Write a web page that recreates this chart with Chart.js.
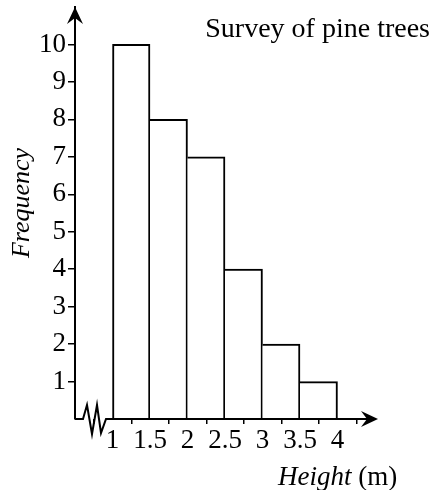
<!DOCTYPE html>
<html>
<head>
<meta charset="utf-8">
<script src="https://cdn.jsdelivr.net/npm/chart.js@4.4.1/dist/chart.umd.min.js"></script>
<style>
  html, body { margin: 0; padding: 0; background: #fff; }
  #wrap { width: 441px; height: 490px; }
</style>
</head>
<body>
<div id="wrap"><canvas id="pineChart"></canvas></div>
<script>
// histogram data: class edges (m) and frequency per class
const binEdges = [1, 1.5, 2, 2.5, 3, 3.5, 4];
const frequencies = [10, 8, 7, 4, 2, 1];
const xTickValues = [1, 1.5, 2, 2.5, 3, 3.5, 4];
const yTickValues = [1, 2, 3, 4, 5, 6, 7, 8, 9, 10];

const chartTitle = 'Survey of pine trees';
const yTitle = 'Frequency';
const xTitleItalic = 'Height';
const xTitleRest = ' (m)';

const serif = '"Liberation Serif", "DejaVu Serif", serif';

const bars = frequencies.map((f, i) => ({ x: (binEdges[i] + binEdges[i + 1]) / 2, y: f }));
// shared edges: only first bar draws a left side
const barBorders = frequencies.map((f, i) => ({ top: 2, right: 2, bottom: 0, left: i === 0 ? 2 : 0 }));

function arrowHead(ctx, x, y, dir) {
  // dir: 'up' or 'right'
  ctx.beginPath();
  if (dir === 'up') {
    ctx.moveTo(x, y);
    ctx.lineTo(x - 8, y + 17);
    ctx.lineTo(x, y + 11);
    ctx.lineTo(x + 8, y + 17);
  } else {
    ctx.moveTo(x, y);
    ctx.lineTo(x - 17, y - 8);
    ctx.lineTo(x - 11, y);
    ctx.lineTo(x - 17, y + 8);
  }
  ctx.closePath();
  ctx.fill();
}

const decor = {
  id: 'decor',
  afterDraw(chart) {
    const ctx = chart.ctx;
    const a = chart.chartArea;
    const y0 = chart.scales.y.getPixelForValue(0);
    ctx.save();
    ctx.strokeStyle = '#000';
    ctx.fillStyle = '#000';
    ctx.lineWidth = 2;
    ctx.lineJoin = 'miter';

    // x axis with the broken-scale zigzag
    ctx.beginPath();
    ctx.moveTo(a.left, y0);
    ctx.lineTo(a.left + 8, y0);
    ctx.lineTo(a.left + 12, y0 - 14);
    ctx.lineTo(a.left + 17, y0 + 15);
    ctx.lineTo(a.left + 22, y0 - 14);
    ctx.lineTo(a.left + 26, y0 + 14);
    ctx.lineTo(a.left + 31, y0);
    ctx.lineTo(a.right, y0);
    ctx.stroke();

    arrowHead(ctx, a.right + 3, y0, 'right');
    arrowHead(ctx, a.left, a.top, 'up');

    // texts
    ctx.textBaseline = 'alphabetic';
    ctx.font = '28px ' + serif;
    ctx.textAlign = 'right';
    ctx.fillText(chartTitle, 430, 37);

    ctx.textAlign = 'left';
    ctx.font = 'italic 27px ' + serif;
    const w = ctx.measureText(xTitleItalic).width;
    ctx.fillText(xTitleItalic, 278, 485);
    ctx.font = '27px ' + serif;
    ctx.fillText(xTitleRest, 278 + w, 485);

    ctx.translate(29, 203);
    ctx.rotate(-Math.PI / 2);
    ctx.textAlign = 'center';
    ctx.font = 'italic 26px ' + serif;
    ctx.fillText(yTitle, 0, 0);
    ctx.restore();
  }
};

new Chart(document.getElementById('pineChart'), {
  type: 'bar',
  data: {
    datasets: [{
      label: 'Frequency',
      data: bars,
      backgroundColor: '#fff',
      borderColor: '#000',
      borderWidth: barBorders,
      borderSkipped: false,
      barPercentage: 1,
      categoryPercentage: 1
    }]
  },
  options: {
    responsive: true,
    maintainAspectRatio: false,
    animation: false,
    layout: { padding: { top: 7, right: 66, bottom: 0, left: 0 } },
    plugins: {
      legend: { display: false },
      tooltip: { enabled: false }
    },
    scales: {
      x: {
        type: 'linear',
        min: 0.5,
        max: 4.5,
        offset: false,
        afterBuildTicks: s => { s.ticks = xTickValues.map(v => ({ value: v })); },
        afterFit: s => { s.height = 71; s.paddingLeft = 0; s.paddingRight = 0; },
        border: { display: false },
        grid: { drawOnChartArea: false, drawTicks: true, tickLength: 5, color: '#000', lineWidth: 1.5 },
        ticks: {
          color: '#000',
          padding: 1,
          maxRotation: 0,
          autoSkip: false,
          font: { family: serif, size: 27 },
          callback: v => String(v)
        }
      },
      y: {
        min: 0,
        max: 11,
        afterBuildTicks: s => { s.ticks = yTickValues.map(v => ({ value: v })); },
        // label half-heights would otherwise push the plot area down
        afterFit: s => { s.width = 75; s.paddingTop = 0; s.paddingBottom = 0; },
        border: { display: true, color: '#000', width: 2 },
        grid: { drawOnChartArea: false, drawTicks: true, tickLength: 7, color: '#000', lineWidth: 1.5 },
        ticks: {
          color: '#000',
          padding: 2,
          autoSkip: false,
          font: { family: serif, size: 27 },
          callback: v => String(v)
        }
      }
    }
  },
  plugins: [decor]
});
</script>
</body>
</html>
